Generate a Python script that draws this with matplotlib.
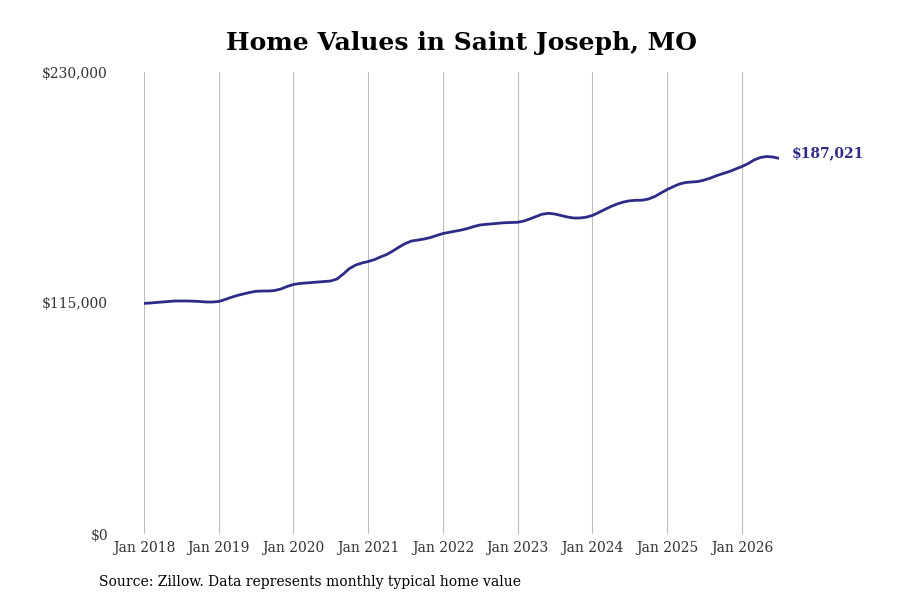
import matplotlib
matplotlib.use('Agg')
import matplotlib.pyplot as plt
import pandas as pd

# monthly typical home value, Jan 2018 .. Jul 2026
start_month = '2018-01-01'
home_values = [
    114800, 115000, 115250, 115500, 115750, 116000, 116000, 116000, 115900, 115750, 115500, 115500,
    115750, 116740, 117740, 118730, 119480, 120230, 120820, 120970, 120970, 121220, 121970, 123210,
    124210, 124710, 124960, 125210, 125450, 125700, 125950, 126950, 129440, 132170, 133920, 134910,
    135660, 136650, 137900, 139140, 140890, 142880, 144620, 145870, 146360, 146860, 147610, 148600,
    149600, 150200, 150740, 151340, 152090, 153090, 153830, 154180, 154430, 154730, 154980, 155080,
    155180, 155820, 156820, 158060, 159210, 159650, 159310, 158560, 157810, 157320, 157320, 157710,
    158560, 160050, 161550, 163040, 164290, 165280, 165880, 166130, 166180, 166770, 168020, 169760,
    171510, 173000, 174240, 174990, 175240, 175490, 176230, 177230, 178470, 179470, 180460, 181710,
    182950, 184450, 186190, 187430, 187930, 187680, 187021,
]
tick_years = [2018, 2019, 2020, 2021, 2022, 2023, 2024, 2025, 2026]
y_ticks = [0, 115000, 230000]
y_labels = ['$0', '$115,000', '$230,000']
title = 'Home Values in Saint Joseph, MO'
source_note = 'Source: Zillow. Data represents monthly typical home value'

line_color = '#2e2b88'
text_color = '#333333'

dates = pd.date_range(start_month, periods=len(home_values), freq='MS')

plt.rcParams['font.family'] = ['DejaVu Serif']

fig = plt.figure(figsize=(9, 6), dpi=100)
ax = fig.add_axes([144 / 900, 1 - 534 / 600, (779 - 144) / 900, (534 - 72) / 600])

ax.plot(dates, home_values, color=line_color, linewidth=2.0, solid_capstyle='round')

ax.set_xlim(dates[0], dates[-1])
ax.set_ylim(0, 230000)

tick_dates = [pd.Timestamp(f'{y}-01-01') for y in tick_years]
ax.set_xticks(tick_dates)
ax.set_xticklabels([f'Jan {y}' for y in tick_years])
ax.set_yticks(y_ticks)
ax.set_yticklabels(y_labels)

ax.tick_params(axis='x', length=0, pad=5, labelsize=10, labelcolor=text_color)
ax.tick_params(axis='y', length=0, pad=26, labelsize=10, labelcolor=text_color)

ax.grid(True, axis='x', color='#bdbdbd', linewidth=0.8)
ax.grid(False, axis='y')
for spine in ax.spines.values():
    spine.set_visible(False)

# end label for the last value
ax.annotate(f'${home_values[-1]:,}', xy=(dates[-1], home_values[-1]),
            xytext=(9.5, 3.5), textcoords='offset points',
            ha='left', va='center', fontsize=10, fontweight='bold', color=line_color,
            annotation_clip=False)

fig.text(461.5 / 900, 1 - 43 / 600, title, ha='center', va='center',
         fontsize=18, fontweight='bold', color='black')
fig.text(99 / 900, 1 - 582 / 600, source_note, ha='left', va='center',
         fontsize=10, color='black')

fig.savefig('out.png', dpi=100)
